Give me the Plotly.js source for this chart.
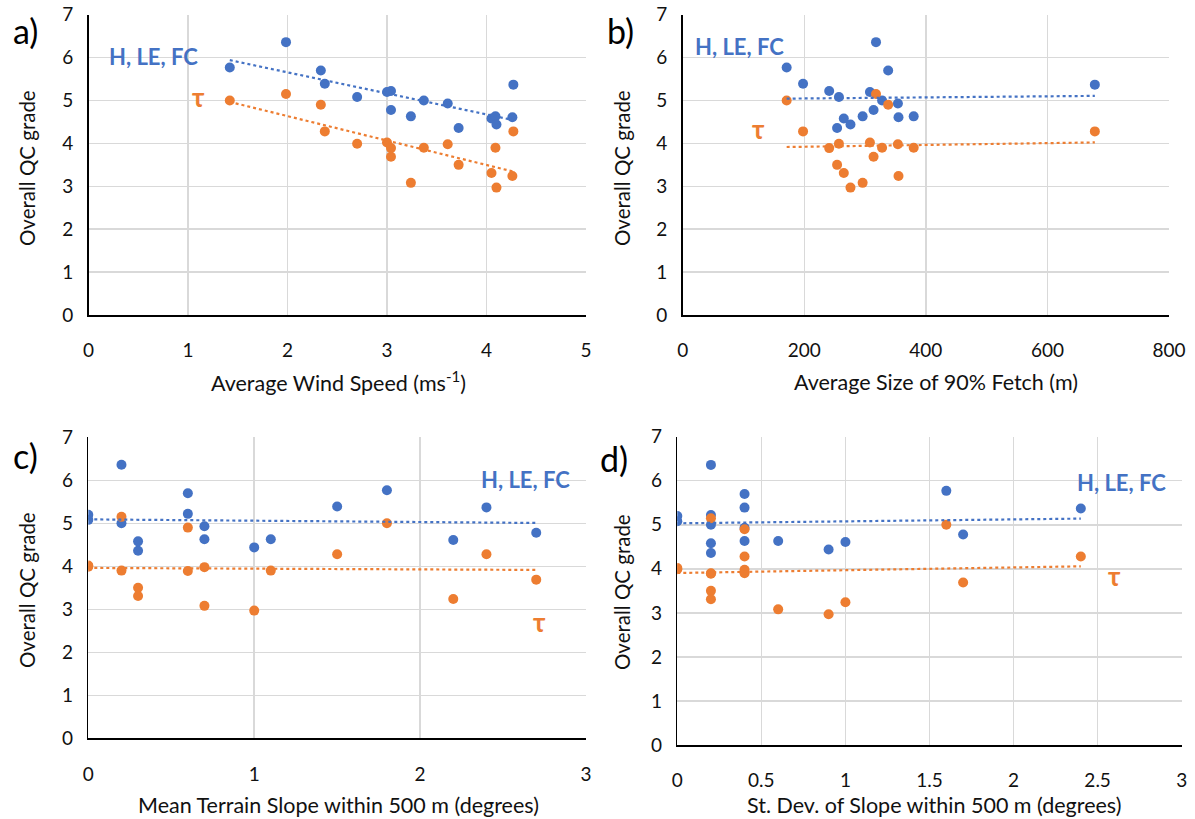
<!DOCTYPE html>
<html>
<head>
<meta charset="utf-8">
<script src="https://cdn.plot.ly/plotly-3.0.1.min.js"></script>
<style>html,body{margin:0;padding:0;background:#fff;}#chart{width:1195px;height:819px;}</style>
</head>
<body>
<div id="chart"></div>
<script>
// Overall QC grade per site (17 sites)
const qcHLEFC = [5.77, 6.36, 5.70, 5.39, 5.08, 5.20, 5.22, 4.78, 4.63, 5.00, 4.93, 4.36, 4.58, 4.63, 4.44, 4.61, 5.37];
const qcTau   = [5.00, 5.15, 4.90, 4.28, 3.99, 4.02, 3.89, 3.69, 3.08, 3.90, 3.98, 3.50, 3.31, 3.90, 2.97, 3.24, 4.28];
// Site characteristics
const windSpeed  = [1.42, 1.985, 2.335, 2.375, 2.70, 3.00, 3.04, 3.04, 3.24, 3.37, 3.61, 3.72, 4.05, 4.09, 4.10, 4.26, 4.27];
const fetch90    = [171, 318, 338, 198, 257, 308, 241, 314, 296, 328, 354, 254, 265, 380, 276, 355, 678];
const slopeMean  = [1.8, 0.2, 0.6, 1.5, 0.0, 0.0, 0.6, 2.7, 0.7, 0.2, 0.7, 0.3, 0.3, 1.1, 1.0, 2.2, 2.4];
const slopeSD    = [1.6, 0.2, 0.4, 0.4, 0.0, 0.0, 0.2, 1.7, 0.6, 0.2, 0.4, 0.2, 0.2, 0.4, 0.9, 1.0, 2.4];

const xTitles = ['Average Wind Speed (ms<sup>-1</sup>)', 'Average Size of 90% Fetch (m)',
                 'Mean Terrain Slope within 500 m (degrees)', 'St. Dev. of Slope within 500 m (degrees)'];
const yTitle = 'Overall QC grade';
const panelLabels = ['a)', 'b)', 'c)', 'd)'];
const seriesLabelA = 'H, LE, FC';
const seriesLabelB = 'τ';

const BLUE = '#4472C4', ORANGE = '#ED7D31';
const W = 1195, H = 819;
const FONT = 'Lato, "Open Sans", sans-serif';

function fit(xs, ys) {
  const n = xs.length;
  let sx = 0, sy = 0, sxx = 0, sxy = 0;
  for (let i = 0; i < n; i++) { sx += xs[i]; sy += ys[i]; sxx += xs[i]*xs[i]; sxy += xs[i]*ys[i]; }
  const b = (n*sxy - sx*sy) / (n*sxx - sx*sx);
  const a = (sy - b*sx) / n;
  const x0 = Math.min(...xs), x1 = Math.max(...xs);
  return {x: [x0, x1], y: [a + b*x0, a + b*x1]};
}

// pixel geometry of each panel's plot area [left, right, top, bottom]
const boxes = [
  [88.5, 586, 14.7, 315],
  [682.7, 1169, 14.7, 315],
  [88.3, 586, 437.3, 738.3],
  [677.3, 1181.7, 436.7, 745]
];
const xData = [windSpeed, fetch90, slopeMean, slopeSD];
const xRanges = [[0, 5], [0, 800], [0, 3], [0, 3]];
const xDticks = [1, 200, 1, 0.5];

const traces = [];
const layout = {
  width: W, height: H,
  margin: {l: 0, r: 0, t: 0, b: 0},
  paper_bgcolor: '#fff', plot_bgcolor: '#fff',
  showlegend: false,
  font: {family: FONT, size: 19, color: '#000'},
  annotations: []
};

for (let p = 0; p < 4; p++) {
  const sfx = p === 0 ? '' : String(p + 1);
  const xa = 'x' + sfx, ya = 'y' + sfx;
  const [L, R, T, B] = boxes[p];
  layout['xaxis' + sfx] = {
    domain: [L / W, R / W], anchor: ya,
    range: xRanges[p], dtick: xDticks[p], tick0: 0,
    showgrid: true, gridcolor: '#d9d9d9', gridwidth: 1.5,
    showline: true, linecolor: '#000', linewidth: 1.5,
    zeroline: false, ticks: '', ticklabelstandoff: 18,
    tickfont: {family: FONT, size: 19, color: '#111'}, fixedrange: true
  };
  layout['yaxis' + sfx] = {
    domain: [1 - B / H, 1 - T / H], anchor: xa,
    range: [0, 7], dtick: 1, tick0: 0,
    showgrid: true, gridcolor: '#d9d9d9', gridwidth: 1.5,
    showline: true, linecolor: '#000', linewidth: 1.5,
    zeroline: false, ticks: '', ticklabelstandoff: 10,
    tickfont: {family: FONT, size: 19, color: '#111'}, fixedrange: true
  };
  // scatter points
  traces.push({x: xData[p], y: qcHLEFC, xaxis: xa, yaxis: ya, type: 'scatter', mode: 'markers',
               marker: {color: BLUE, size: 10}, name: seriesLabelA});
  traces.push({x: xData[p], y: qcTau, xaxis: xa, yaxis: ya, type: 'scatter', mode: 'markers',
               marker: {color: ORANGE, size: 10}, name: seriesLabelB});
  // linear trendlines
  const fb = fit(xData[p], qcHLEFC), fo = fit(xData[p], qcTau);
  traces.push({x: fb.x, y: fb.y, xaxis: xa, yaxis: ya, type: 'scatter', mode: 'lines',
               line: {color: BLUE, width: 2.2, dash: 'dot'}, hoverinfo: 'skip'});
  traces.push({x: fo.x, y: fo.y, xaxis: xa, yaxis: ya, type: 'scatter', mode: 'lines',
               line: {color: ORANGE, width: 2.2, dash: 'dot'}, hoverinfo: 'skip'});
}

function ann(text, px, py, opts) {
  layout.annotations.push(Object.assign({
    text: text, xref: 'paper', yref: 'paper', x: px / W, y: 1 - py / H,
    xanchor: 'center', yanchor: 'middle', showarrow: false
  }, opts));
}
const xTitleFont = {family: FONT, size: 21.5, color: '#111'};
const yTitleFont = {family: FONT, size: 20.5, color: '#111'};
// x axis titles
ann(xTitles[0], 338, 381, {font: xTitleFont});
ann(xTitles[1], 936, 382, {font: xTitleFont});
ann(xTitles[2], 338, 805, {font: xTitleFont});
ann(xTitles[3], 934, 805, {font: xTitleFont});
// y axis titles
ann(yTitle, 27, 168, {font: yTitleFont, textangle: -90});
ann(yTitle, 622, 168, {font: yTitleFont, textangle: -90});
ann(yTitle, 27, 590, {font: yTitleFont, textangle: -90});
ann(yTitle, 622, 592, {font: yTitleFont, textangle: -90});
// panel letters
const letterFont = {family: FONT, size: 34, color: '#000'};
ann(panelLabels[0], 25, 31, {font: letterFont});
ann(panelLabels[1], 620, 31, {font: letterFont});
ann(panelLabels[2], 25, 455, {font: letterFont});
ann(panelLabels[3], 614, 458, {font: letterFont});
// series labels
const lblB = {family: FONT, size: 22, color: BLUE, weight: 'bold'};
const lblO = {family: FONT, size: 26, color: ORANGE, weight: 'bold'};
ann('<b>' + seriesLabelA + '</b>', 153, 57, {font: lblB});
ann('<b>' + seriesLabelB + '</b>', 198, 97, {font: lblO});
ann('<b>' + seriesLabelA + '</b>', 740, 46, {font: lblB});
ann('<b>' + seriesLabelB + '</b>', 758, 129, {font: lblO});
ann('<b>' + seriesLabelA + '</b>', 525, 479, {font: lblB});
ann('<b>' + seriesLabelB + '</b>', 539, 622, {font: lblO});
ann('<b>' + seriesLabelA + '</b>', 1121, 482, {font: lblB});
ann('<b>' + seriesLabelB + '</b>', 1114, 576, {font: lblO});

Plotly.newPlot('chart', traces, layout, {displayModeBar: false, staticPlot: true});
</script>
</body>
</html>
